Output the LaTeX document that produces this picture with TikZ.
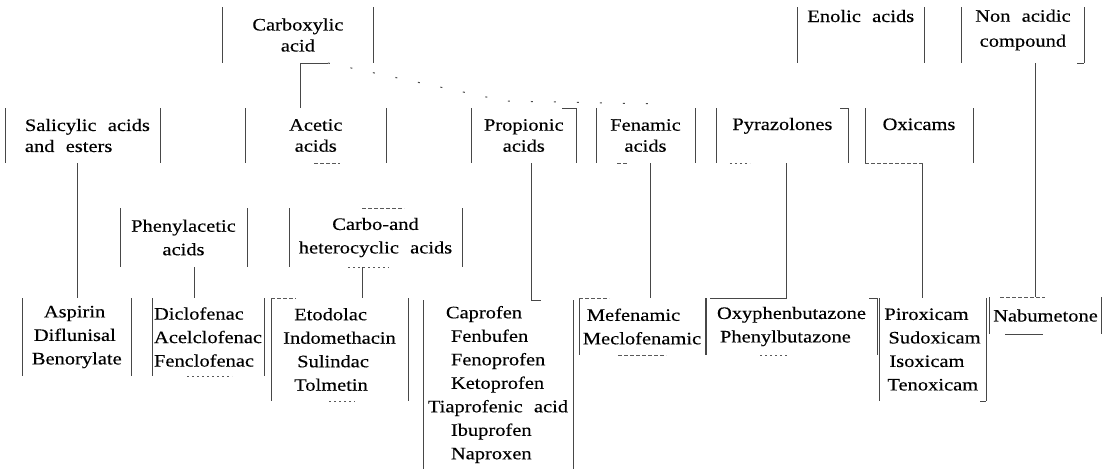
\documentclass[tikz,border=0pt]{standalone}
\usepackage{fontspec}
\setmainfont{Liberation Serif}[FakeStretch=1.17, WordSpace=2.2, FakeBold=0.3]
\usetikzlibrary{calc}
\begin{document}
\begin{tikzpicture}[x=1pt,y=-1pt,
  font=\fontsize{17.5}{23.5}\selectfont,
  bx/.style={inner sep=0pt, outer sep=0pt, text=black},
  tight/.style={font=\fontsize{17.5}{21}\selectfont},
  boxside/.style={draw=black!72, line width=0.55pt},
  linkline/.style={draw=black!72, line width=0.55pt},
  fragline/.style={draw=black!65, line width=0.55pt, dash pattern=on 4pt off 2pt},
  dotfrag/.style={draw=black!65, line width=0.7pt, dash pattern=on 2pt off 3pt},
  dotline/.style={draw=black!70, line width=1pt, dash pattern=on 2pt off 21pt}]
\fill[white] (0,0) rectangle (1106,469);
\useasboundingbox (0,0) rectangle (1106,469);

% top row
\node[bx, tight, minimum width=150.3pt, minimum height=56pt, align=center] (carb) at (297.9,35) {Carboxylic\\acid};
\node[bx, minimum width=127.5pt, text height=15pt, text depth=41pt] (enol) at (860.8,35) {Enolic acids};
\node[bx, minimum width=122.3pt, minimum height=56pt,
      label={[name=nonactxt, align=center, yshift=5pt, font=\fontsize{17.5}{25}\selectfont]center:Non acidic\\compound}] (nonac) at (1022.9,35) {};

% second row
\node[bx, tight, minimum width=155.7pt, minimum height=55pt, align=left] (sal) at (82.9,135.5) {\hspace*{9pt}Salicylic acids\\\hspace*{9pt}and esters};
\node[bx, tight, minimum width=141.5pt, minimum height=55pt, align=center] (acet) at (315.8,135.5) {Acetic\\acids};
\node[bx, tight, minimum width=104.5pt, minimum height=55pt, align=center] (prop) at (523.8,135.5) {Propionic\\acids};
\node[bx, tight, minimum width=99pt, minimum height=55pt, align=center] (fen) at (645.5,135.5) {Fenamic\\acids};
\node[bx, minimum width=131.3pt, text height=22pt, text depth=33pt] (pyr) at (782.4,135.5) {Pyrazolones};
\node[bx, minimum width=108pt, text height=22pt, text depth=33pt] (oxi) at (919,135.5) {Oxicams};

% third row
\node[bx, minimum width=127pt, minimum height=59pt, align=center] (phen) at (183.5,237.5) {Phenylacetic\\acids};
\node[bx, minimum width=173pt, minimum height=59pt, align=center] (carbo) at (375.5,237.5) {Carbo-and\\heterocyclic acids};

% drug lists
\node[bx, minimum width=109.5pt, minimum height=78pt, align=left] (aspl) at (76.8,337) {\hspace*{12pt}Aspirin\\\hspace*{2pt}Diflunisal\\Benorylate};
\node[bx, minimum width=112pt, minimum height=78pt, align=left] (dicl) at (208,337) {Diclofenac\\Acelclofenac\\Fenclofenac};
\node[bx, minimum width=137pt, minimum height=103pt, align=left] (etol) at (339.5,349.5) {\hspace*{11pt}Etodolac\\Indomethacin\\\hspace*{14pt}Sulindac\\\hspace*{11pt}Tolmetin};
\node[bx, minimum width=150pt, minimum height=169pt, align=left] (propl) at (498,384.5) {\hspace*{18pt}Caprofen\\\hspace*{23pt}Fenbufen\\\hspace*{23pt}Fenoprofen\\\hspace*{23pt}Ketoprofen\\Tiaprofenic acid\\\hspace*{23pt}Ibuprofen\\\hspace*{23pt}Naproxen};
\node[bx, minimum width=126pt, minimum height=57pt, align=left] (mefl) at (642,326.5) {\hspace*{4pt}Mefenamic\\Meclofenamic};
\node[bx, minimum width=171pt, minimum height=57pt, align=left] (oxyl) at (791.5,326.5) {Oxyphenbutazone\\\hspace*{3pt}Phenylbutazone};
\node[bx, minimum width=107pt, minimum height=103pt, align=left] (pirl) at (932.5,349.5) {Piroxicam\\\hspace*{4pt}Sudoxicam\\\hspace*{5pt}Isoxicam\\\hspace*{3pt}Tenoxicam};
\node[bx, minimum width=112pt, minimum height=37pt] (nabl) at (1045.5,315.5) {Nabumetone};

% box sides
\foreach \n in {carb,enol,nonac,sal,acet,prop,fen,pyr,oxi,phen,carbo,aspl,dicl,etol,propl,mefl,oxyl,pirl,nabl}
  \draw[boxside] (\n.north west) -- (\n.south west) (\n.north east) -- (\n.south east);

% connector anchor points
\coordinate (kA) at ([xshift=2.8pt]carb.south);
\coordinate (kC) at ([xshift=10.5pt]phen.south);
\coordinate (kD) at ([xshift=-13pt]carbo.south);
\coordinate (kE) at ([xshift=7.2pt]prop.south);
\coordinate (kF) at ([xshift=4.5pt]fen.south);
\coordinate (kG) at ([xshift=4.3pt]pyr.south);
\coordinate (kH) at ([xshift=3.7pt]oxi.south);
\coordinate (kI) at ([xshift=12.1pt]nonac.south);
\coordinate (dA) at ([xshift=30pt]carb.south);
\coordinate (dB) at (505,101);
\coordinate (dC) at (662,104);

% connectors
\draw[linkline] (kA) -- (kA |- acet.north);
\draw[linkline] (kA) -- (dA);
\draw[dotline] (dA) -- (dB) -- (dC);
\draw[linkline] (aspl.north |- sal.south) -- (aspl.north);
\draw[linkline] (kC) -- (kC |- dicl.north);
\draw[linkline] (kD) -- (kD |- etol.north);
\draw[linkline] (kE) -- (kE |- propl.north) -- ([xshift=-32pt]propl.north east);
\draw[linkline] (kF) -- (kF |- mefl.north);
\draw[linkline] (kG) -- (kG |- oxyl.north) -- ([xshift=4pt]oxyl.north west);
\draw[linkline] (kH) -- (kH |- pirl.north);
\draw[linkline] (kI) -- (kI |- nabl.north);

% fragments of box edges
\draw[fragline] (oxi.south west) -- (kH);
\draw[fragline] ([xshift=10.5pt]nabl.north west) -- ([xshift=10pt]kI |- nabl.north);
\draw[linkline] ([xshift=15.5pt]nabl.south west) -- ([xshift=53.5pt]nabl.south west);
\draw[fragline] ([xshift=69pt]acet.south west) -- ([xshift=95pt]acet.south west);
\draw[linkline] ([xshift=-14pt]prop.north east) -- (prop.north east);
\draw[fragline] ([xshift=21pt]fen.south west) -- ([xshift=31pt]fen.south west);
\draw[dotfrag] ([xshift=13pt]pyr.south west) -- ([xshift=33pt]pyr.south west);
\draw[linkline] ([xshift=-8pt]pyr.north east) -- (pyr.north east);
\draw[fragline] ([xshift=73pt]carbo.north west) -- ([xshift=115pt]carbo.north west);
\draw[dotfrag] ([xshift=59pt]carbo.south west) -- ([xshift=100pt]carbo.south west);
\draw[dotfrag] ([xshift=35pt]dicl.south west) -- ([xshift=80pt]dicl.south west);
\draw[fragline] (etol.north west) -- ([xshift=25pt]etol.north west);
\draw[dotfrag] ([xshift=58pt]etol.south west) -- ([xshift=84pt]etol.south west);
\draw[fragline] (mefl.north west) -- ([xshift=30pt]mefl.north west);
\draw[fragline] ([xshift=39pt]mefl.south west) -- ([xshift=87pt]mefl.south west);
\draw[dotfrag] ([xshift=54pt]oxyl.south west) -- ([xshift=83pt]oxyl.south west);
\draw[linkline] ([xshift=-8pt]oxyl.north east) -- (oxyl.north east);
\draw[linkline] ([xshift=-6pt]pirl.south east) -- (pirl.south east);
\draw[linkline] ([xshift=-7pt]nonac.south east) -- (nonac.south east);
\end{tikzpicture}
\end{document}
